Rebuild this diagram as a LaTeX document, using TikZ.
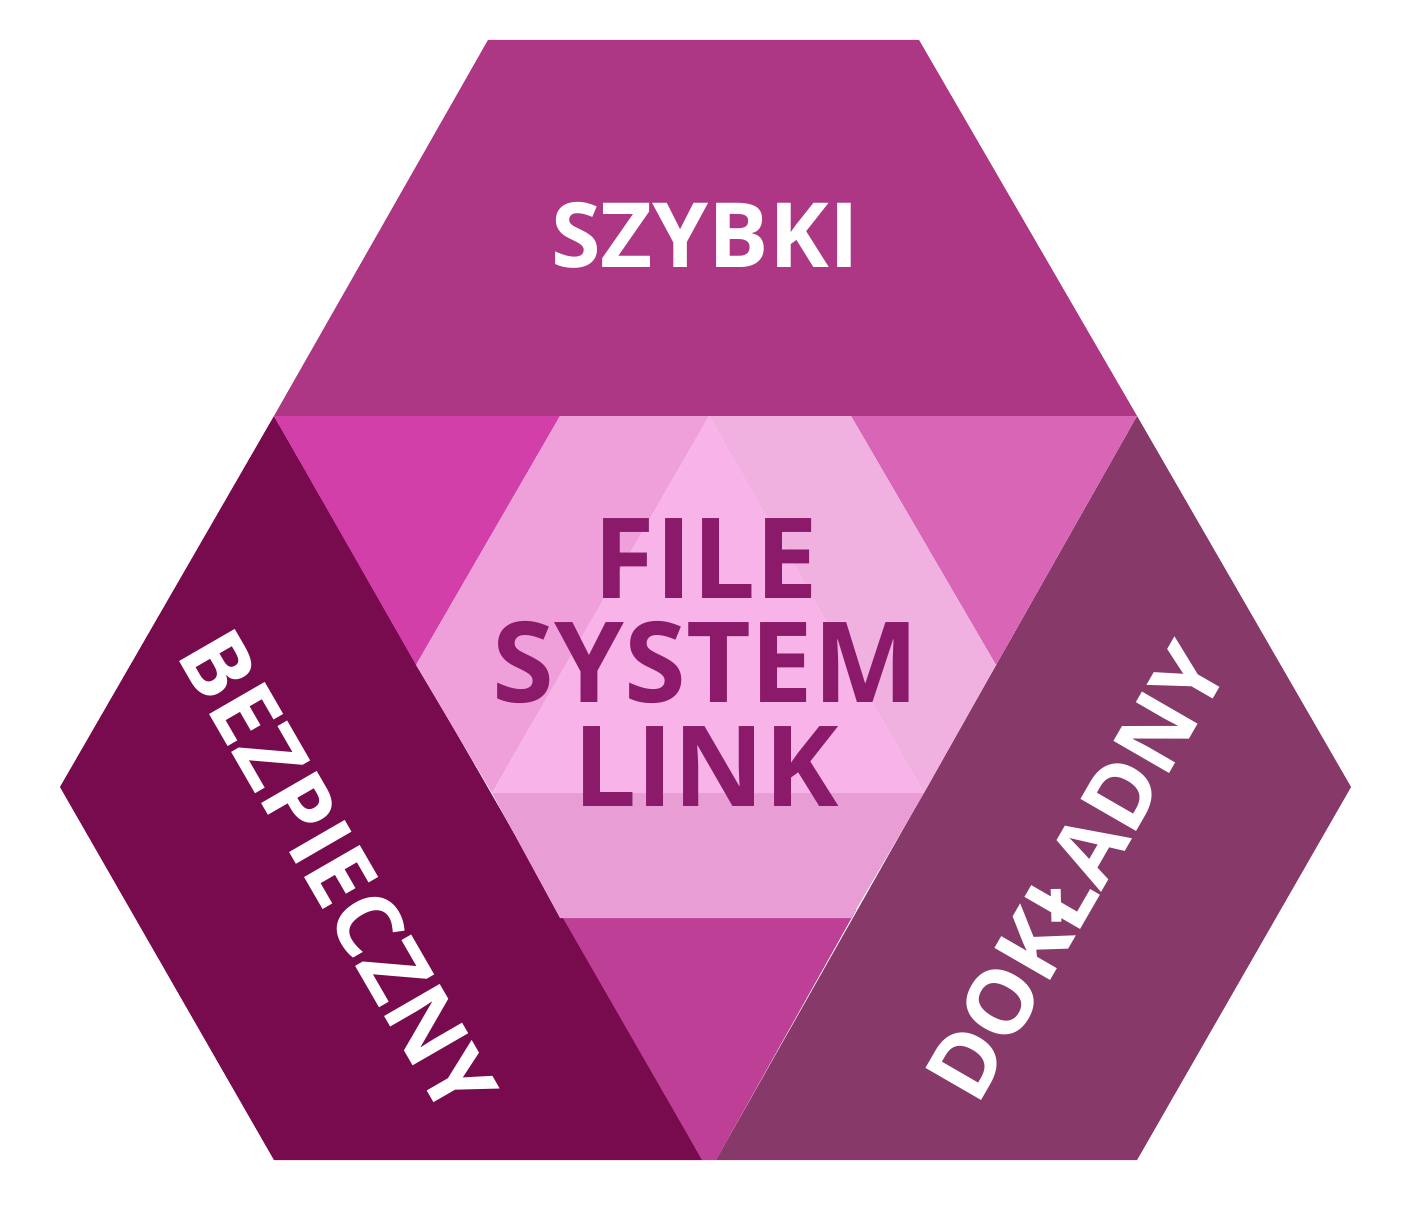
\documentclass[tikz,border=0pt]{standalone}
\usepackage{fontspec}
\setmainfont{Open Sans}
\begin{document}
\begin{tikzpicture}[x=1pt,y=-1pt]
\definecolor{ctop}{HTML}{AD3784}
\definecolor{cleft}{HTML}{780A4E}
\definecolor{cright}{HTML}{873A69}
\definecolor{ttl}{HTML}{D33FA9}
\definecolor{ttr}{HTML}{D865B6}
\definecolor{tb}{HTML}{BE4096}
\definecolor{il}{HTML}{EF9FDA}
\definecolor{ir}{HTML}{F0B0E0}
\definecolor{ib}{HTML}{E89DD4}
\definecolor{ic}{HTML}{F8B4E8}
\definecolor{ctxt}{HTML}{8B1A6B}
\tikzset{lbl/.style={font=\bfseries\fontsize{90}{90}\selectfont, text=white, inner sep=0pt},
 ctr/.style={font=\bfseries\fontsize{112}{104}\selectfont, text=ctxt, inner sep=0pt, align=center}}
\useasboundingbox (0,0) rectangle (1424,1220);
\fill[ctop] (488,40) -- (919,40) -- (1137,416) -- (274,416) -- cycle;
\fill[tb] (555,910) -- (856,910) -- (716,1160) -- (702,1160) -- cycle;
\fill[cleft] (274,416) -- (60,787) -- (274,1160) -- (702,1160) -- cycle;
\fill[cright] (1137,416) -- (1351,787) -- (1137,1160) -- (716,1160) -- cycle;
\fill[ttl] (274,416) -- (560,416) -- (416,665) -- cycle;
\fill[ttr] (851,416) -- (1137,416) -- (996,665) -- cycle;
\fill[il] (560,416) -- (709,416) -- (492,793) -- (416,665) -- cycle;
\fill[ir] (709,416) -- (851,416) -- (996,665) -- (924,793) -- cycle;
\fill[ib] (492,793) -- (924,793) -- (851,918) -- (560,918) -- cycle;
\fill[ic] (709,416) -- (924,793) -- (492,793) -- cycle;
\node[lbl] (sz) at (705,235) {SZYBKI};
\node[lbl, rotate=-60] (bz) at (338,872) {BEZPIECZNY};
\node[lbl, rotate=60] (dk) at (1076,872) {DOKŁADNY};
\node[ctr] (fs) at (706,663) {FILE\\SYSTEM\\LINK};
\end{tikzpicture}
\end{document}
